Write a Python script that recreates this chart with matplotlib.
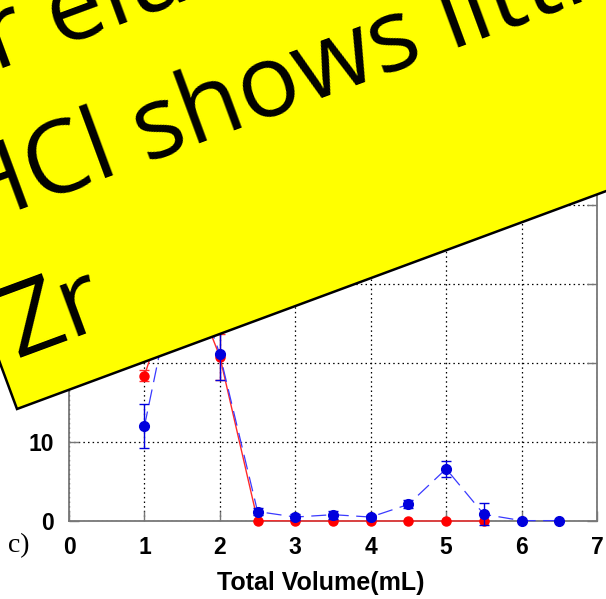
import numpy as np
import matplotlib
matplotlib.use("Agg")
import matplotlib.pyplot as plt
from matplotlib.patches import Polygon

# Elution profile data (fraction volume in mL, concentration)
vol_blue = [1.0, 1.5, 2.0, 2.5, 3.0, 3.5, 4.0, 4.5, 5.0, 5.5, 6.0, 6.5]
conc_blue = [12.0, 35.0, 21.1, 1.2, 0.5, 0.8, 0.5, 2.1, 6.6, 0.85, 0.05, 0.05]
err_blue = [2.8, 3.0, 3.3, 0.5, 0.4, 0.5, 0.3, 0.5, 1.0, 1.4, 0.0, 0.0]

vol_red = [1.0, 1.5, 2.0, 2.5, 3.0, 3.5, 4.0, 4.5, 5.0, 5.5]
conc_red = [18.4, 33.0, 20.8, 0.05, 0.0, 0.0, 0.0, 0.0, 0.0, 0.0]
err_red = [0.7, 2.0, 2.9, 0.0, 0.0, 0.0, 0.0, 0.0, 0.0, 0.0]

x_ticks = [0, 1, 2, 3, 4, 5, 6, 7]
y_ticks = [0, 10, 20, 30, 40, 50]
y_ticklabels = ["0", "10", "", "", "", ""]

note_lines = ["Zr elution with 9M", "HCl shows little", "Zr"]

W, H = 606, 599
fig = plt.figure(figsize=(W / 100, H / 100), dpi=100)
ax = fig.add_axes([69 / W, (H - 521) / H, 528 / W, 395 / H])

ax.errorbar(vol_red, conc_red, yerr=err_red, color="#ff2a2a", lw=1.0,
            marker="o", ms=6.5, mfc="#ff0000", mec="#ff0000",
            ecolor="#ff2a2a", elinewidth=1.0, capsize=3.5, capthick=1.0,
            clip_on=False, zorder=3)
ax.errorbar(vol_blue, conc_blue, yerr=err_blue, color="#3a3aff", lw=0.9,
            ls=(0, (12, 6)), marker="o", ms=7, mfc="#0000dd", mec="#0000dd",
            ecolor="#0000dd", elinewidth=1.0, capsize=3.5, capthick=1.0,
            clip_on=False, zorder=4)

ax.set_xlim(0, 7)
ax.set_ylim(0, 50)
ax.set_xticks(x_ticks)
ax.set_yticks(y_ticks)
ax.set_yticklabels(y_ticklabels)
ax.grid(True, color="black", ls=(0, (1.2, 2.5)), lw=0.9)
ax.set_axisbelow(True)

for s in ax.spines.values():
    s.set_color("#777777")
    s.set_linewidth(1.3)
ax.tick_params(direction="in", length=7, width=1.0, color="#777777",
               top=True, right=True, pad=11)
for lab in ax.get_xticklabels() + ax.get_yticklabels():
    lab.set_fontfamily("Liberation Sans")
    lab.set_fontweight("bold")
    lab.set_fontsize(16.5)

fig.text(321 / W, 1 - 590 / H, "Total Volume(mL)", ha="center", va="baseline",
         fontsize=18, fontweight="bold", family="Liberation Sans")
fig.text(8 / W, 1 - 552 / H, "c)", ha="left", va="baseline",
         fontsize=20, family="Liberation Serif")

# Rotated yellow call-out box (pixel geometry, y measured downward)
ang = np.deg2rad(20.3)
u = np.array([np.cos(ang), -np.sin(ang)])
n = np.array([np.sin(ang), np.cos(ang)])
bl = np.array([17.0, 409.0])
corners = [bl, bl + 1500 * u, bl + 1500 * u - 1500 * n, bl - 1500 * n]
pts = [(c[0] / W, 1 - c[1] / H) for c in corners]
fig.patches.append(Polygon(pts, closed=True, transform=fig.transFigure,
                           facecolor="#ffff00", edgecolor="black", lw=1.8,
                           zorder=10))

start3 = np.array([16.0, 358.0])
spacing = 138.0
shifts = [22.0, 0.0, 0.0]
for i, line in enumerate(note_lines):
    p = start3 - (2 - i) * spacing * n + shifts[i] * u
    fig.text(p[0] / W, 1 - p[1] / H, line, rotation=20.3,
             rotation_mode="anchor", ha="left", va="baseline",
             fontsize=73, family="Open Sans", color="black", zorder=11)

fig.savefig("out.png", dpi=100)
